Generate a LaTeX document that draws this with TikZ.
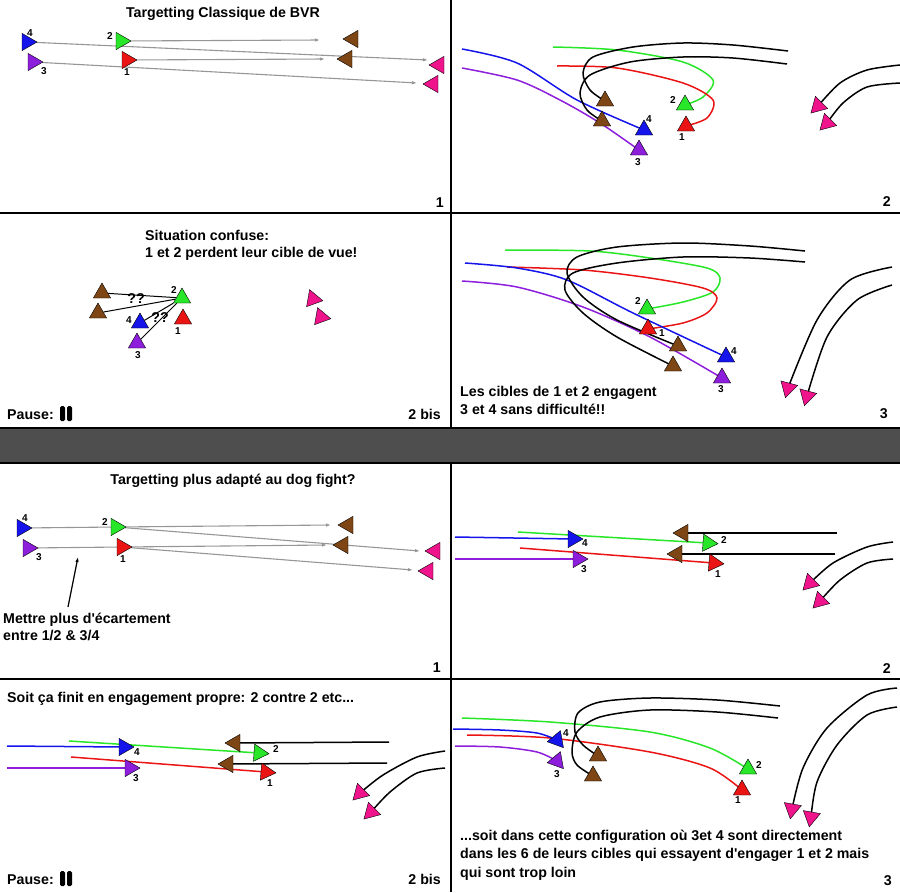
\documentclass[tikz,border=0pt]{standalone}
\usepackage{fontspec}
\setmainfont{Liberation Sans}
\usetikzlibrary{shapes,
	arrows.meta,
	backgrounds}
\definecolor{cblue}{RGB}{20,20,235}
\definecolor{cgreen}{RGB}{40,230,40}
\definecolor{cred}{RGB}{235,20,20}
\definecolor{cpurple}{RGB}{140,30,220}
\definecolor{cbrown}{RGB}{125,70,20}
\definecolor{cpink}{RGB}{240,20,140}
\definecolor{cgray}{RGB}{150,150,150}
\definecolor{band}{RGB}{78,78,78}
\tikzstyle{pl}=[draw, regular polygon, regular polygon sides=3, minimum size=20pt, inner sep=0pt, line width=0.4pt]
\tikzstyle{num}=[font=\fontsize{10}{11}\selectfont\bfseries, inner sep=0pt]
\tikzstyle{txt}=[font=\fontsize{14.2}{17}\selectfont\bfseries, inner sep=0pt]
\tikzstyle{tgt}=[draw=cgray, line width=1.1pt, -{Latex[length=5pt,width=3.5pt]}]
\tikzstyle{tgl}=[draw=cgray, line width=1.1pt]
\tikzstyle{trk}=[line width=1.5pt]
\tikzstyle{sepline}=[line width=2.6pt]
\tikzstyle{bar}=[rounded corners=1.5pt]

\begin{document}
\begin{tikzpicture}[x=1pt, y=-1pt]
\useasboundingbox (0,0) rectangle (900,892);

% grid
\fill[band] (0,428) rectangle (900,463);
\draw[line width=2pt] (0,428) -- (900,428) (0,463) -- (900,463);
\draw[sepline] (451,0) -- (451,428) (451,463) -- (451,892);
\draw[sepline] (0,213) -- (900,213) (0,679) -- (900,679);

% ---- 1 (haut)
\node[txt, anchor=base] (At) at (223,17) {Targetting Classique de BVR};
\node[pl, fill=cblue, rotate=-90] (A4) at (27,42) {};
\node[pl, fill=cgreen, rotate=-90] (A2) at (121,41) {};
\node[pl, fill=cpurple, rotate=-90] (A3) at (33,62) {};
\node[pl, fill=cred, rotate=-90] (A1) at (127,60) {};
\node[pl, fill=cbrown, rotate=90] (Ab1) at (353,39) {};
\node[pl, fill=cbrown, rotate=90] (Ab2) at (347,59) {};
\node[pl, fill=cpink, rotate=90] (Ap1) at (439,65) {};
\node[pl, fill=cpink, rotate=90] (Ap2) at (433,84) {};
\node[num] (A4n) at (30,33) {4};
\node[num] (A2n) at (110,36) {2};
\node[num] (A3n) at (44,71) {3};
\node[num] (A1n) at (127,72) {1};
\coordinate (A2t) at (320,40);
\coordinate (A1t) at (325,59);
\coordinate (A4t) at (428,60);
\coordinate (A3t) at (417,83);
\begin{scope}[on background layer]
\draw[tgt] (A2) -- (A2t);
\draw[tgt] (A1) -- (A1t);
\draw[tgt] (A4) -- (A4t);
\draw[tgt] (A3) -- (A3t);
\end{scope}
\node[txt, anchor=base east] (An) at (444,207) {1};

% ---- 2 (haut)
\node[pl, fill=cblue] (B4) at (644,130) {};
\node[pl, fill=cpurple] (B3) at (639,150) {};
\node[pl, fill=cgreen] (B2) at (685,105) {};
\node[pl, fill=cred] (B1) at (686,126) {};
\node[pl, fill=cbrown] (Bb1) at (605,101) {};
\node[pl, fill=cbrown] (Bb2) at (602,121) {};
\node[pl, fill=cpink, rotate=135] (Bp1) at (818,106) {};
\node[pl, fill=cpink, rotate=135] (Bp2) at (827,123) {};
\node[num] (B4n) at (649,119) {4};
\node[num] (B3n) at (638,162) {3};
\node[num] (B2n) at (673,100) {2};
\node[num] (B1n) at (682,137) {1};
\begin{scope}[on background layer]
\draw[trk, cblue] plot[smooth] coordinates {(462,49) (517,63) (577,100) (B4)};
\draw[trk, cpurple] plot[smooth] coordinates {(462,68) (517,80) (560,100) (600,123) (B3)};
\draw[trk, cgreen] plot[smooth] coordinates {(553,47) (617,50) (683,62) (713,80) (703,97) (B2)};
\draw[trk, cred] plot[smooth] coordinates {(557,66) (617,68) (683,83) (713,100) (707,118) (B1)};
\draw[trk] plot[smooth] coordinates {(788,51) (733,45) (683,43) (633,47) (593,57) (583,73) (590,90) (Bb1)};
\draw[trk] plot[smooth] coordinates {(787,64) (733,58) (683,57) (630,62) (590,75) (580,93) (587,110) (Bb2)};
\draw[trk] plot[smooth] coordinates {(900,65) (867,70) (840,83) (Bp1)};
\draw[trk] plot[smooth] coordinates {(900,83) (867,87) (843,103) (Bp2)};
\end{scope}
\node[txt, anchor=base east] (Bn) at (891,206) {2};

% ---- 2 bis (haut)
\node[txt, anchor=base west] (Ct1) at (145,240) {Situation confuse:};
\node[txt, anchor=base west] (Ct2) at (145,257) {1 et 2 perdent leur cible de vue!};
\node[pl, fill=cbrown] (Cb1) at (102,293) {};
\node[pl, fill=cbrown] (Cb2) at (98,313) {};
\node[pl, fill=cgreen] (C2) at (182,298) {};
\node[pl, fill=cred] (C1) at (183,319) {};
\node[pl, fill=cblue] (C4) at (140,323) {};
\node[pl, fill=cpurple] (C3) at (137,343) {};
\node[pl, fill=cpink, rotate=-100] (Cp1) at (313,299) {};
\node[pl, fill=cpink, rotate=-100] (Cp2) at (321,317) {};
\node[num] (C2n) at (174,290) {2};
\node[num] (C1n) at (178,331) {1};
\node[num] (C4n) at (129,320) {4};
\node[num] (C3n) at (138,355) {3};
\begin{scope}[on background layer]
\draw[line width=1pt] (C2) -- (Cb1);
\draw[line width=1pt] (C2) -- (Cb2);
\draw[line width=1pt] (C2) -- (C4);
\draw[line width=1pt] (C2) -- (C3);
\end{scope}
\node[txt] (Cq1) at (136,299) {??};
\node[txt] (Cq2) at (160,318) {??};
\node[txt, anchor=base west] (Cp) at (7,419) {Pause:};
\fill[bar] (60,406) rectangle (65,421);
\fill[bar] (67,406) rectangle (72,421);
\node[txt, anchor=base east] (Cn) at (441,419) {2 bis};

% ---- 3 (haut)
\node[pl, fill=cgreen] (D2) at (647,309) {};
\node[pl, fill=cred] (D1) at (648,329) {};
\node[pl, fill=cbrown] (Db1) at (678,346) {};
\node[pl, fill=cbrown] (Db2) at (673,366) {};
\node[pl, fill=cblue] (D4) at (726,357) {};
\node[pl, fill=cpurple] (D3) at (722,378) {};
\node[pl, fill=cpink, rotate=165] (Dp1) at (788,388) {};
\node[pl, fill=cpink, rotate=165] (Dp2) at (807,396) {};
\node[num] (D2n) at (638,301) {2};
\node[num] (D1n) at (662,333) {1};
\node[num] (D4n) at (734,351) {4};
\node[num] (D3n) at (721,389) {3};
\begin{scope}[on background layer]
\draw[trk, cgreen] plot[smooth] coordinates {(505,250) (590,251) (650,258) (707,268) (720,278) (713,292) (683,302) (D2)};
\draw[trk, cred] plot[smooth] coordinates {(507,267) (583,270) (650,278) (703,288) (717,298) (707,313) (683,323) (D1)};
\draw[trk, cblue] plot[smooth] coordinates {(465,263) (517,268) (567,280) (633,313) (D4)};
\draw[trk, cpurple] plot[smooth] coordinates {(462,281) (517,287) (583,307) (650,337) (D3)};
\draw[trk] plot[smooth] coordinates {(805,251) (750,246) (683,243) (617,247) (577,257) (567,273) (583,297) (617,320) (Db1)};
\draw[trk] plot[smooth] coordinates {(805,262) (750,258) (683,257) (617,263) (573,273) (565,290) (583,313) (617,337) (Db2)};
\draw[trk] plot[smooth] coordinates {(892,267) (850,280) (817,320) (Dp1)};
\draw[trk] plot[smooth] coordinates {(892,285) (857,300) (827,337) (Dp2)};
\end{scope}
\node[txt, anchor=base west] (Dt1) at (460,396) {Les cibles de 1 et 2 engagent};
\node[txt, anchor=base west] (Dt2) at (460,414) {3 et 4 sans difficulté!!};
\node[txt, anchor=base east] (Dn) at (888,418) {3};

% ---- 1 (bas)
\node[txt, anchor=base] (Et) at (233,484) {Targetting plus adapté au dog fight?};
\node[pl, fill=cblue, rotate=-90] (E4) at (22,528) {};
\node[pl, fill=cgreen, rotate=-90] (E2) at (116,527) {};
\node[pl, fill=cpurple, rotate=-90] (E3) at (28,548) {};
\node[pl, fill=cred, rotate=-90] (E1) at (122,547) {};
\node[pl, fill=cbrown, rotate=90] (Eb1) at (348,525) {};
\node[pl, fill=cbrown, rotate=90] (Eb2) at (343,545) {};
\node[pl, fill=cpink, rotate=90] (Ep1) at (435,551) {};
\node[pl, fill=cpink, rotate=90] (Ep2) at (428,571) {};
\node[num] (E4n) at (25,518) {4};
\node[num] (E2n) at (105,522) {2};
\node[num] (E3n) at (39,557) {3};
\node[num] (E1n) at (123,559) {1};
\coordinate (E2t) at (331,525);
\coordinate (E2u) at (420,551);
\coordinate (E1t) at (327,545);
\coordinate (E1u) at (413,570);
\begin{scope}[on background layer]
\draw[tgl] (E4) -- (E2);
\draw[tgl] (E3) -- (E1);
\draw[tgt] (E2) -- (E2t);
\draw[tgt] (E2) -- (E2u);
\draw[tgt] (E1) -- (E1t);
\draw[tgt] (E1) -- (E1u);
\end{scope}
\node[txt, anchor=base west] (Et1) at (3,623) {Mettre plus d\textquotesingle écartement};
\node[txt, anchor=base west] (Et2) at (3,640) {entre 1/2 \& 3/4};
\coordinate (Ea) at (68,607);
\coordinate (Eb) at (78,557);
\draw[line width=1.2pt, -{Latex[length=5pt,width=3.5pt]}] (Ea) -- (Eb);
\node[txt, anchor=base east] (En) at (441,672) {1};

% ---- 2 (bas)
\node[pl, fill=cblue, rotate=-90] (F4) at (573,539) {};
\node[pl, fill=cpurple, rotate=-90] (F3) at (578,559) {};
\node[pl, fill=cgreen, rotate=-94] (F2) at (708,543) {};
\node[pl, fill=cred, rotate=-95] (F1) at (714,563) {};
\node[pl, fill=cbrown, rotate=90] (Fb1) at (683,533) {};
\node[pl, fill=cbrown, rotate=90] (Fb2) at (677,554) {};
\node[pl, fill=cpink, rotate=135] (Fp1) at (810,583) {};
\node[pl, fill=cpink, rotate=135] (Fp2) at (820,601) {};
\node[num] (F4n) at (585,543) {4};
\node[num] (F3n) at (584,569) {3};
\node[num] (F2n) at (724,540) {2};
\node[num] (F1n) at (718,574) {1};
\coordinate (F4s) at (455,537);
\coordinate (F3s) at (455,559);
\coordinate (F2s) at (518,532);
\coordinate (F1s) at (520,548);
\coordinate (Fb1s) at (837,533);
\coordinate (Fb2s) at (835,554);
\begin{scope}[on background layer]
\draw[trk, cblue] (F4s) -- (F4);
\draw[trk, cpurple] (F3s) -- (F3);
\draw[trk, cgreen] (F2s) -- (F2);
\draw[trk, cred] (F1s) -- (F1);
\draw[trk] (Fb1s) -- (Fb1);
\draw[trk] (Fb2s) -- (Fb2);
\draw[trk] plot[smooth] coordinates {(893,542) (867,547) (833,563) (Fp1)};
\draw[trk] plot[smooth] coordinates {(893,559) (867,563) (840,580) (Fp2)};
\end{scope}
\node[txt, anchor=base east] (Fn) at (891,673) {2};

% ---- 2 bis (bas)
\node[txt, anchor=base west] (Gt) at (7,702) {Soit ça finit en engagement propre: 2 contre 2 etc...};
\node[pl, fill=cblue, rotate=-90] (G4) at (124,747) {};
\node[pl, fill=cpurple, rotate=-90] (G3) at (130,768) {};
\node[pl, fill=cgreen, rotate=-94] (G2) at (259,753) {};
\node[pl, fill=cred, rotate=-95] (G1) at (266,772) {};
\node[pl, fill=cbrown, rotate=90] (Gb1) at (235,743) {};
\node[pl, fill=cbrown, rotate=90] (Gb2) at (228,764) {};
\node[pl, fill=cpink, rotate=135] (Gp1) at (360,793) {};
\node[pl, fill=cpink, rotate=135] (Gp2) at (371,812) {};
\node[num] (G4n) at (137,752) {4};
\node[num] (G3n) at (136,778) {3};
\node[num] (G2n) at (276,749) {2};
\node[num] (G1n) at (270,783) {1};
\coordinate (G4s) at (7,746);
\coordinate (G3s) at (7,768);
\coordinate (G2s) at (69,741);
\coordinate (G1s) at (71,757);
\coordinate (Gb1s) at (389,742);
\coordinate (Gb2s) at (387,763);
\begin{scope}[on background layer]
\draw[trk, cblue] (G4s) -- (G4);
\draw[trk, cpurple] (G3s) -- (G3);
\draw[trk, cgreen] (G2s) -- (G2);
\draw[trk, cred] (G1s) -- (G1);
\draw[trk] (Gb1s) -- (Gb1);
\draw[trk] (Gb2s) -- (Gb2);
\draw[trk] plot[smooth] coordinates {(445,751) (417,757) (383,775) (Gp1)};
\draw[trk] plot[smooth] coordinates {(445,768) (417,773) (390,792) (Gp2)};
\end{scope}
\node[txt, anchor=base west] (Gp) at (7,884) {Pause:};
\fill[bar] (60,871) rectangle (65,886);
\fill[bar] (67,871) rectangle (72,886);
\node[txt, anchor=base east] (Gn) at (441,884) {2 bis};

% ---- 3 (bas)
\node[pl, fill=cgreen] (H2) at (748,769) {};
\node[pl, fill=cred] (H1) at (742,790) {};
\node[pl, fill=cblue, rotate=-20] (H4) at (557,740) {};
\node[pl, fill=cpurple, rotate=-20] (H3) at (557,761) {};
\node[pl, fill=cbrown] (Hb1) at (598,756) {};
\node[pl, fill=cbrown] (Hb2) at (593,776) {};
\node[pl, fill=cpink, rotate=170] (Hp1) at (792,809) {};
\node[pl, fill=cpink, rotate=170] (Hp2) at (811,817) {};
\node[num] (H4n) at (566,733) {4};
\node[num] (H3n) at (557,774) {3};
\node[num] (H2n) at (759,765) {2};
\node[num] (H1n) at (738,800) {1};
\begin{scope}[on background layer]
\draw[trk, cgreen] plot[smooth] coordinates {(462,718) (550,722) (650,732) (710,748) (H2)};
\draw[trk, cred] plot[smooth] coordinates {(467,735) (550,738) (650,752) (710,768) (H1)};
\draw[trk, cblue] plot[smooth] coordinates {(453,729) (500,730) (537,733) (H4)};
\draw[trk, cpurple] plot[smooth] coordinates {(455,746) (500,747) (537,752) (H3)};
\draw[trk] plot[smooth] coordinates {(780,706) (717,700) (650,698) (600,702) (578,713) (575,732) (583,745) (Hb1)};
\draw[trk] plot[smooth] coordinates {(778,718) (717,712) (650,710) (600,717) (577,732) (572,752) (577,765) (Hb2)};
\draw[trk] plot[smooth] coordinates {(897,688) (867,695) (827,728) (803,768) (Hp1)};
\draw[trk] plot[smooth] coordinates {(897,707) (867,715) (837,745) (817,782) (Hp2)};
\end{scope}
\node[txt, anchor=base west] (Ht1) at (460,840) {...soit dans cette configuration où 3et 4 sont directement};
\node[txt, anchor=base west] (Ht2) at (460,858) {dans les 6 de leurs cibles qui essayent d\textquotesingle engager 1 et 2 mais};
\node[txt, anchor=base west] (Ht3) at (460,877) {qui sont trop loin};
\node[txt, anchor=base east] (Hn) at (892,885) {3};
\end{tikzpicture}
\end{document}
